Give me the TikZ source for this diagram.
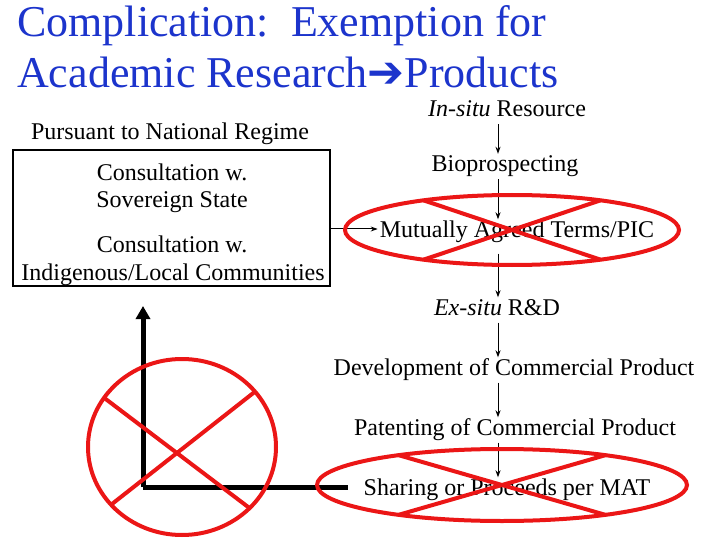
\documentclass[tikz,border=0pt]{standalone}
\usepackage{fontspec}
\setmainfont{Liberation Serif}
\newfontfamily\arrowfont{DejaVu Sans}
\usetikzlibrary{arrows.meta,calc}
\definecolor{titleblue}{RGB}{28,52,204}
\definecolor{vetored}{RGB}{235,22,22}

\begin{document}
\begin{tikzpicture}[x=1pt,y=-1pt,
  every node/.style={font=\fontsize{24}{28}\selectfont,inner sep=2pt,text height=16pt,text depth=5pt},
  heading/.style={anchor=base west,titleblue,font=\fontsize{44}{48}\selectfont,text height=,text depth=},
  flow/.style={-{Stealth[length=7pt,width=5pt]},line width=1pt},
  axis/.style={line width=5pt},
  veto/.style={vetored,line width=4pt}]
 \useasboundingbox (0,0) rectangle (720,540);

 % title
 \node[heading] (title1) at (15,37) {Complication:\ \ Exemption for};
 \node[heading] (title2) at (15,88) {Academic Research{\arrowfont ➔}Products};

 % national regime
 \node (pursuant) at (170,134.5) {Pursuant to National Regime};
 \node[draw,line width=1.5pt,minimum width=317pt,minimum height=136pt] (regime) at (171.5,218) {};
 \node (state1) at (172,175.5) {Consultation w.};
 \node (state2) at (172,202) {Sovereign State};
 \node (local1) at (172,247) {Consultation w.};
 \node (local2) at (173,275) {Indigenous/Local Communities};

 % chain of steps
 \coordinate (col) at (498,0);
 \node (insitu) at (507,111.5) {\textit{In-situ} Resource};
 \node (bio) at (505,166.5) {Bioprospecting};
 \node (mat) at (517,232) {Mutually Agreed Terms/PIC};
 \node (exsitu) at (497,310) {\textit{Ex-situ} R\&D};
 \node (devel) at (514,370) {Development of Commercial Product};
 \node (patent) at (515,430) {Patenting of Commercial Product};
 \node (share) at (507,490) {Sharing or Proceeds per MAT};

 \draw[flow] (insitu.south -| col) -- (bio.north -| col);
 \draw[flow] (bio.south -| col) -- (mat.north -| col);
 \draw[flow,shorten <=9pt] (mat.south -| col) -- (exsitu.north -| col);
 \draw[flow] (exsitu.south -| col) -- (devel.north -| col);
 \draw[flow] (devel.south -| col) -- (patent.north -| col);
 \draw[flow] (patent.south -| col) -- (share.north -| col);
 \coordinate (matin) at ([yshift=3pt]mat.west);
 \draw[flow] (regime.east |- matin) -- (matin);

 % axes
 \coordinate (corner) at (143,487);
 \coordinate (axtop) at (143,306);
 \coordinate (axend) at ([xshift=-14pt,yshift=3pt]share.west);
 \draw[axis,-{Triangle[length=13pt,width=14pt]}] (corner) -- (axtop);
 \draw[axis] (corner) -- (axend);

 % crossed out
 \coordinate (veto1) at (512,230);
 \draw[veto] (veto1) ellipse [x radius=167,y radius=35];
 \draw[veto] ($(veto1)+(122:167 and 35)$) -- ($(veto1)+(-58:167 and 35)$)
   ($(veto1)+(58:167 and 35)$) -- ($(veto1)+(-122:167 and 35)$);
 \coordinate (veto2) at (502,485);
 \draw[veto] (veto2) ellipse [x radius=185,y radius=36];
 \draw[veto] ($(veto2)+(124:185 and 36)$) -- ($(veto2)+(-56:185 and 36)$)
   ($(veto2)+(56:185 and 36)$) -- ($(veto2)+(-124:185 and 36)$);
 \coordinate (veto3) at (182,447);
 \draw[veto] (veto3) ellipse [x radius=94,y radius=88];
 \draw[veto] ($(veto3)+(139:94 and 88)$) -- ($(veto3)+(-39:94 and 88)$)
   ($(veto3)+(44:94 and 88)$) -- ($(veto3)+(-146:94 and 88)$);
\end{tikzpicture}
\end{document}
